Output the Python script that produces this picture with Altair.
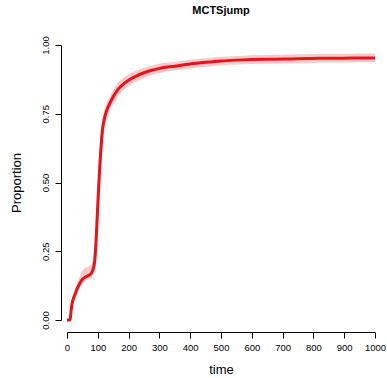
import altair as alt
import pandas as pd

times = [0, 5, 10, 12, 15, 20, 25, 30, 40, 50, 60, 70, 80, 85, 90, 95, 100, 105, 110, 115, 120,
         130, 140, 150, 165, 180, 200, 225, 250, 275, 300, 350, 400, 450, 500, 550, 600,
         650, 700, 750, 800, 850, 900, 950, 1000]
prop = [0.0, 0.0, 0.0, 0.02, 0.05, 0.075, 0.09, 0.105, 0.13, 0.148, 0.156, 0.162, 0.172, 0.185,
        0.215, 0.30, 0.42, 0.53, 0.62, 0.69, 0.725, 0.765, 0.79, 0.812, 0.838, 0.855, 0.872,
        0.887, 0.899, 0.908, 0.915, 0.923, 0.931, 0.937, 0.942, 0.945, 0.947, 0.948, 0.949,
        0.950, 0.951, 0.952, 0.952, 0.953, 0.953]
lower = [0.0, 0.0, 0.0, 0.008, 0.035, 0.06, 0.075, 0.09, 0.115, 0.133, 0.143, 0.148, 0.155, 0.165,
         0.18, 0.22, 0.32, 0.43, 0.54, 0.63, 0.68, 0.735, 0.765, 0.785, 0.814, 0.832, 0.85,
         0.866, 0.88, 0.89, 0.898, 0.908, 0.915, 0.921, 0.926, 0.929, 0.931, 0.932, 0.933,
         0.934, 0.935, 0.936, 0.936, 0.937, 0.937]
upper = [0.0, 0.0, 0.012, 0.035, 0.07, 0.095, 0.11, 0.125, 0.155, 0.18, 0.19, 0.195, 0.205, 0.23,
         0.29, 0.40, 0.52, 0.61, 0.68, 0.73, 0.76, 0.792, 0.815, 0.836, 0.862, 0.877, 0.893,
         0.907, 0.917, 0.925, 0.932, 0.938, 0.946, 0.952, 0.957, 0.960, 0.963, 0.964, 0.965,
         0.966, 0.967, 0.968, 0.968, 0.969, 0.969]

df = pd.DataFrame({"time": times, "prop": prop, "lo": lower, "hi": upper})

x_ticks = list(range(0, 1001, 100))
y_ticks = [0.0, 0.25, 0.5, 0.75, 1.0]

font = "Liberation Sans"

xscale = alt.Scale(domain=[0, 1000], nice=False, zero=False)
yscale = alt.Scale(domain=[0, 1], nice=False, zero=False)

xaxis = alt.Axis(values=x_ticks, format="d", title="time", offset=12, tickSize=6, labelPadding=4,
                 labelFontSize=9.5, titleFontSize=13, titlePadding=12, grid=False,
                 domainColor="black", tickColor="black", labelColor="black",
                 titleColor="black", labelFont=font, titleFont=font, titleFontWeight="normal",
                 labelFlush=False, labelOverlap=False)
yaxis = alt.Axis(values=y_ticks, format=".2f", title="Proportion", offset=6, tickSize=6,
                 labelAngle=270, labelAlign="center", labelBaseline="bottom", labelPadding=5,
                 labelFontSize=9.5, titleFontSize=13, titlePadding=17, grid=False,
                 domainColor="black", tickColor="black", labelColor="black",
                 titleColor="black", labelFont=font, titleFont=font, titleFontWeight="normal",
                 labelFlush=False, labelOverlap=False)

base = alt.Chart(df).encode(
    x=alt.X("time:Q", scale=xscale, axis=xaxis),
)
band = base.mark_area(color="#e8262b", opacity=0.25, interpolate="monotone").encode(
    y=alt.Y("lo:Q", scale=yscale, axis=yaxis),
    y2="hi:Q",
)
line = base.mark_line(color="#e8141c", strokeWidth=3, interpolate="monotone").encode(
    y=alt.Y("prop:Q", scale=yscale, axis=yaxis),
)

chart = (band + line).properties(
    width=308, height=275,
    autosize=alt.AutoSizeParams(type="none"),
    padding={"left": 67, "top": 45, "right": 12, "bottom": 58},
    title=alt.TitleParams("MCTSjump", font=font, fontSize=11, fontWeight="bold",
                          anchor="middle", offset=20, color="black"),
).configure_view(stroke=None)

chart.save("out.html", embed_options={"renderer": "svg", "actions": False})
